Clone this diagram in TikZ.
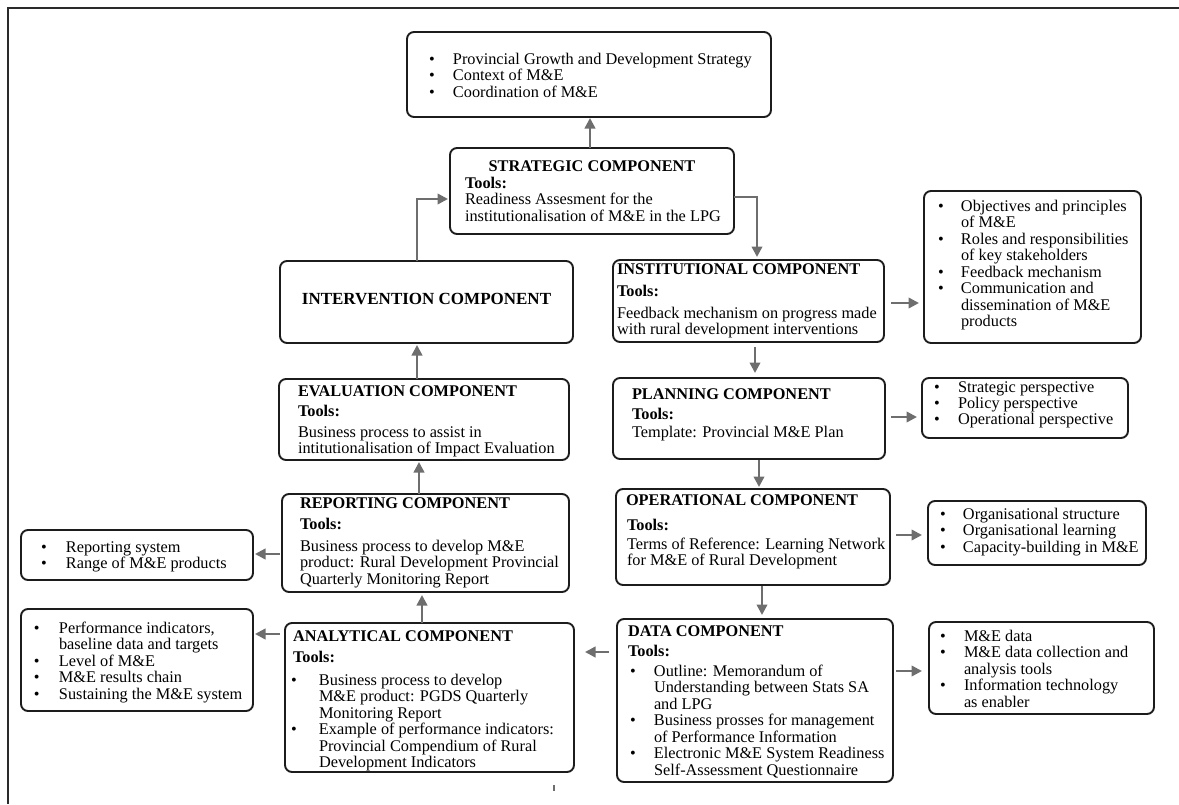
\documentclass[tikz,border=0pt]{standalone}
\usepackage{fontspec}
\setmainfont{Liberation Serif}
\usepackage{array}
\usetikzlibrary{arrows.meta}
\definecolor{boxc}{HTML}{1C1C1C}
\definecolor{arrc}{HTML}{6E6E6E}
\definecolor{framec}{HTML}{2A2A2A}
\newcommand\bul{\textbullet}
\begin{document}
\begin{tikzpicture}[x=1pt,y=-1pt,
  box/.style={draw=boxc, line width=1.9pt, rounded corners=7pt, inner sep=0pt, outer sep=0pt, anchor=north west},
  txt/.style={inner sep=0pt, outer sep=0pt, anchor=base west, text=black, font=\fontsize{16.3}{16.5}\selectfont},
  head/.style={txt, anchor=base, font=\fontsize{16.3}{16.5}\selectfont\bfseries},
  arr/.style={draw=arrc, line width=2.4pt, -{Triangle[length=10.5pt,width=10.5pt]}}
]
\useasboundingbox (0,0) rectangle (1179,804);

% page frame (top and left rules)
\draw[framec, line width=2.2pt] (7,8) -- (1179,8);
\draw[framec, line width=2.2pt] (8,8) -- (8,804);
\draw[arrc, line width=1.2pt] (554,785) -- (554,791);

% ---------- boxes ----------
\node[box, minimum width=364pt, minimum height=85pt]  (gen)  at (407,32)  {};
\node[box, minimum width=284pt, minimum height=86pt]  (str)  at (450,148) {};
\node[box, minimum width=293pt, minimum height=82pt]  (int)  at (280,261) {};
\node[box, minimum width=271pt, minimum height=82pt]  (inst) at (613,260) {};
\node[box, minimum width=217pt, minimum height=152pt] (obj)  at (924,191) {};
\node[box, minimum width=290pt, minimum height=81pt]  (eval) at (279,379) {};
\node[box, minimum width=272pt, minimum height=81pt]  (plan) at (613,378) {};
\node[box, minimum width=206pt, minimum height=60pt]  (persp) at (922,378) {};
\node[box, minimum width=287pt, minimum height=98pt]  (rep)  at (282,494) {};
\node[box, minimum width=232pt, minimum height=50pt]  (repl) at (21,530)  {};
\node[box, minimum width=274pt, minimum height=96pt]  (oper) at (616,489) {};
\node[box, minimum width=218pt, minimum height=64pt]  (org)  at (928,501) {};
\node[box, minimum width=289pt, minimum height=149pt] (ana)  at (285,623) {};
\node[box, minimum width=232pt, minimum height=102pt] (anal) at (21,609)  {};
\node[box, minimum width=276pt, minimum height=163pt] (data) at (617,619) {};
\node[box, minimum width=225pt, minimum height=92pt]  (datr) at (929,622) {};

% ---------- texts ----------
\node[txt] (gen-t) at (429,64) {\begin{tabular}[t]{@{}p{24pt}@{}l@{}}
\bul & Provincial Growth and Development Strategy\\
\bul & Context of M\&E\\
\bul & Coordination of M\&E
\end{tabular}};

\node[head] (str-h) at (592,171) {STRATEGIC COMPONENT};
\node[txt] (str-t) at (465,188) {\begin{tabular}[t]{@{}l@{}}
\textbf{Tools:}\\
Readiness Assesment for the\\
institutionalisation of M\&E in the LPG
\end{tabular}};

\node[head, font=\fontsize{17}{18}\selectfont\bfseries] (int-h) at (426.5,304) {INTERVENTION COMPONENT};

\node[txt] (inst-t) at (617,274) {\begin{tabular}[t]{@{}l@{}}
\textbf{INSTITUTIONAL COMPONENT}\\[5.5pt]
\textbf{Tools:}\\[5.5pt]
Feedback mechanism on progress made\\
with rural development interventions
\end{tabular}};

\node[txt] (obj-t) at (938,211) {\begin{tabular}[t]{@{}p{23pt}@{}l@{}}
\bul & Objectives and principles\\
     & of M\&E\\
\bul & Roles and responsibilities\\
     & of key stakeholders\\
\bul & Feedback mechanism\\
\bul & Communication and\\
     & dissemination of M\&E\\
     & products
\end{tabular}};

\node[txt] (eval-t) at (298,396) {\begin{tabular}[t]{@{}l@{}}
\textbf{EVALUATION COMPONENT}\\[3.5pt]
\textbf{Tools:}\\[4.5pt]
Business process to assist in\\
intitutionalisation of Impact Evaluation
\end{tabular}};

\node[txt] (plan-t) at (632,399) {\begin{tabular}[t]{@{}l@{}}
\textbf{PLANNING COMPONENT}\\[3.5pt]
\textbf{Tools:}\\[1.5pt]
Template: Provincial M\&E Plan
\end{tabular}};

\node[txt] (persp-t) at (934,392) {\begin{tabular}[t]{@{}p{24pt}@{}l@{}}
\bul & Strategic perspective\\[-0.5pt]
\bul & Policy perspective\\[-0.5pt]
\bul & Operational perspective
\end{tabular}};

\node[txt] (rep-t) at (300,508) {\begin{tabular}[t]{@{}l@{}}
\textbf{REPORTING COMPONENT}\\[4.5pt]
\textbf{Tools:}\\[5.5pt]
Business process to develop M\&E\\
product: Rural Development Provincial\\
Quarterly Monitoring Report
\end{tabular}};

\node[txt] (repl-t) at (41,552) {\begin{tabular}[t]{@{}p{25pt}@{}l@{}}
\bul & Reporting system\\
\bul & Range of M\&E products
\end{tabular}};

\node[txt] (oper-t) at (626,505) {\begin{tabular}[t]{@{}l@{}}
\textbf{OPERATIONAL COMPONENT}\\[8.5pt]
\hspace{1pt}\textbf{Tools:}\\[2.5pt]
\hspace{1pt}Terms of Reference: Learning Network\\
\hspace{1pt}for M\&E of Rural Development
\end{tabular}};

\node[txt] (org-t) at (940,519) {\begin{tabular}[t]{@{}p{23pt}@{}l@{}}
\bul & Organisational structure\\
\bul & Organisational learning\\
\bul & Capacity-building in M\&E
\end{tabular}};

\node[txt] (ana-t) at (291,641) {\begin{tabular}[t]{@{}p{28pt}@{}l@{}}
\multicolumn{2}{@{}l@{}}{\hspace{2pt}\textbf{ANALYTICAL COMPONENT}}\\[4.5pt]
\multicolumn{2}{@{}l@{}}{\hspace{2pt}\textbf{Tools:}}\\[6.5pt]
\bul & Business process to develop\\
     & M\&E product: PGDS Quarterly\\
     & Monitoring Report\\
\bul & Example of performance indicators:\\
     & Provincial Compendium of Rural\\
     & Development Indicators
\end{tabular}};

\node[txt] (anal-t) at (34,633) {\begin{tabular}[t]{@{}p{25pt}@{}l@{}}
\bul & Performance indicators,\\
     & baseline data and targets\\
\bul & Level of M\&E\\
\bul & M\&E results chain\\
\bul & Sustaining the M\&E system
\end{tabular}};

\node[txt] (data-t) at (628,636) {\begin{tabular}[t]{@{}p{26pt}@{}l@{}}
\multicolumn{2}{@{}l@{}}{\textbf{DATA COMPONENT}}\\[3.5pt]
\multicolumn{2}{@{}l@{}}{\textbf{Tools:}}\\[3.5pt]
\hspace{2pt}\bul & Outline: Memorandum of\\
     & Understanding between Stats SA\\
     & and LPG\\
\hspace{2pt}\bul & Business prosses for management\\
     & of Performance Information\\
\hspace{2pt}\bul & Electronic M\&E System Readiness\\
     & Self-Assessment Questionnaire
\end{tabular}};

\node[txt] (datr-t) at (940,641) {\begin{tabular}[t]{@{}p{24pt}@{}l@{}}
\bul & M\&E data\\
\bul & M\&E data collection and\\
     & analysis tools\\
\bul & Information technology\\
     & as enabler
\end{tabular}};

% ---------- connectors ----------
\draw[arr, shorten >=1pt] ([xshift=-2pt]str.north) -- ([xshift=-2pt]str.north |- gen.south);
\draw[arr, shorten >=3pt] ([yshift=-6pt]str.east) -| ([xshift=8.5pt]inst.north);
\draw[arr, shorten >=2pt] ([xshift=-9.5pt]int.north) |- ([yshift=-8pt]str.west);

\draw[arr, shorten <=7pt, shorten >=5pt] ([yshift=-2pt]inst.east) -- ([yshift=-2pt]inst.east -| obj.west);
\draw[arr, shorten <=5pt, shorten >=5pt] ([xshift=6.5pt]inst.south) -- ([xshift=6.5pt]inst.south |- plan.north);
\draw[arr, shorten <=6pt, shorten >=5pt] ([yshift=1.5pt]plan.east) -- ([yshift=1.5pt]plan.east -| persp.west);
\draw[arr, shorten <=1pt, shorten >=2pt] ([xshift=10pt]plan.south) -- ([xshift=10pt]plan.south |- oper.north);
\draw[arr, shorten <=6pt, shorten >=6pt] ([yshift=2pt]oper.east) -- ([yshift=2pt]oper.east -| org.west);
\draw[arr, shorten <=1pt, shorten >=4pt] ([xshift=9pt]oper.south) -- ([xshift=9pt]oper.south |- data.north);
\draw[arr, shorten <=3pt, shorten >=7pt] ([yshift=29.5pt]data.east) -- ([yshift=29.5pt]data.east -| datr.west);
\draw[arr, shorten <=8pt, shorten >=11pt] ([yshift=48.5pt]data.west) -- ([yshift=48.5pt]data.west -| ana.east);
\draw[arr, shorten <=5pt, shorten >=2pt] ([yshift=63.5pt]ana.west) -- ([yshift=63.5pt]ana.west -| anal.east);
\draw[arr, shorten >=3pt] ([xshift=-7.5pt]ana.north) -- ([xshift=-7.5pt]ana.north |- rep.south);
\draw[arr, shorten <=2pt, shorten >=2pt] ([yshift=-11pt]rep.west) -- ([yshift=-11pt]rep.west -| repl.east);
\draw[arr, shorten >=2pt] ([xshift=-6.5pt]rep.north) -- ([xshift=-6.5pt]rep.north |- eval.south);
\draw[arr, shorten >=2pt] ([xshift=-7pt]eval.north) -- ([xshift=-7pt]eval.north |- int.south);
\end{tikzpicture}
\end{document}
